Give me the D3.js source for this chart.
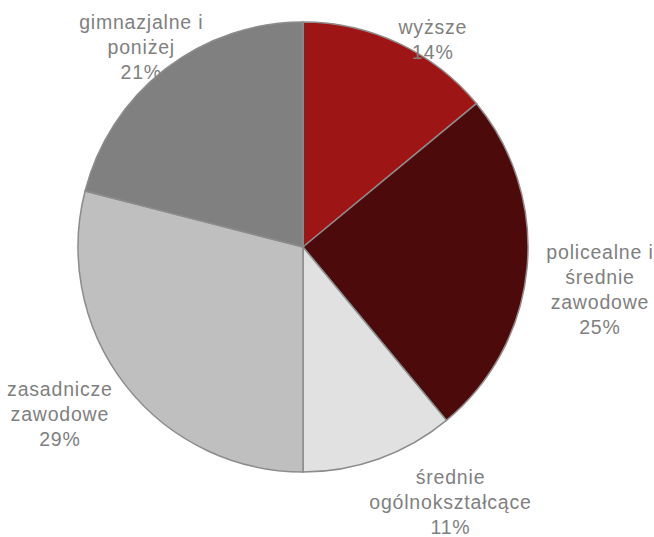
<!DOCTYPE html>
<html><head><meta charset="utf-8">
<script src="https://cdn.jsdelivr.net/npm/d3@7"></script>
<style>body{margin:0;background:#fff}</style>
</head><body>
<svg id="c" width="654" height="537"></svg>
<script>
const categories = ["wyższe", "policealne i średnie zawodowe", "średnie ogólnokształcące", "zasadnicze zawodowe", "gimnazjalne i poniżej"];
const values = [14, 25, 11, 29, 21];
const colors = ["#9e1515", "#4d0a0a", "#e1e1e1", "#bfbfbf", "#808080"];
const labelLines = [["wyższe","14%"],["policealne i","średnie","zawodowe","25%"],["średnie","ogólnokształcące","11%"],["zasadnicze","zawodowe","29%"],["gimnazjalne i","poniżej","21%"]];
// label anchor (angle deg from top, distance from centre)
const labelPolar = [[32,245],[98.2,300],[150,295],[235.5,295],[321,257]];

const svg = d3.select("#c");
const cx = 303, cy = 247, R = 225;
const g = svg.append("g").attr("transform", `translate(${cx},${cy})`);
const pie = d3.pie().sort(null).value(d => d)(values);
const arc = d3.arc().innerRadius(0).outerRadius(R);
g.selectAll("path").data(pie).enter().append("path")
  .attr("d", arc).attr("fill", (d,i) => colors[i])
  .attr("stroke", "#8c8c8c").attr("stroke-width", 1.5);

const lh = 25, fs = 19.5;
labelLines.forEach((lines, i) => {
  const a = labelPolar[i][0] * Math.PI / 180, r = labelPolar[i][1];
  const x = Math.sin(a) * r, y = -Math.cos(a) * r;
  const t = g.append("text").attr("text-anchor", "middle")
    .attr("font-family", "Liberation Sans, Arial, sans-serif")
    .attr("font-size", fs).attr("letter-spacing", 0.8).attr("fill", "#808080");
  const y0 = y - (lines.length - 1) * lh / 2;
  lines.forEach((s, k) => {
    t.append("tspan").attr("x", x).attr("y", y0 + k * lh).attr("dy", "0.35em").text(s);
  });
});
</script>
</body></html>
